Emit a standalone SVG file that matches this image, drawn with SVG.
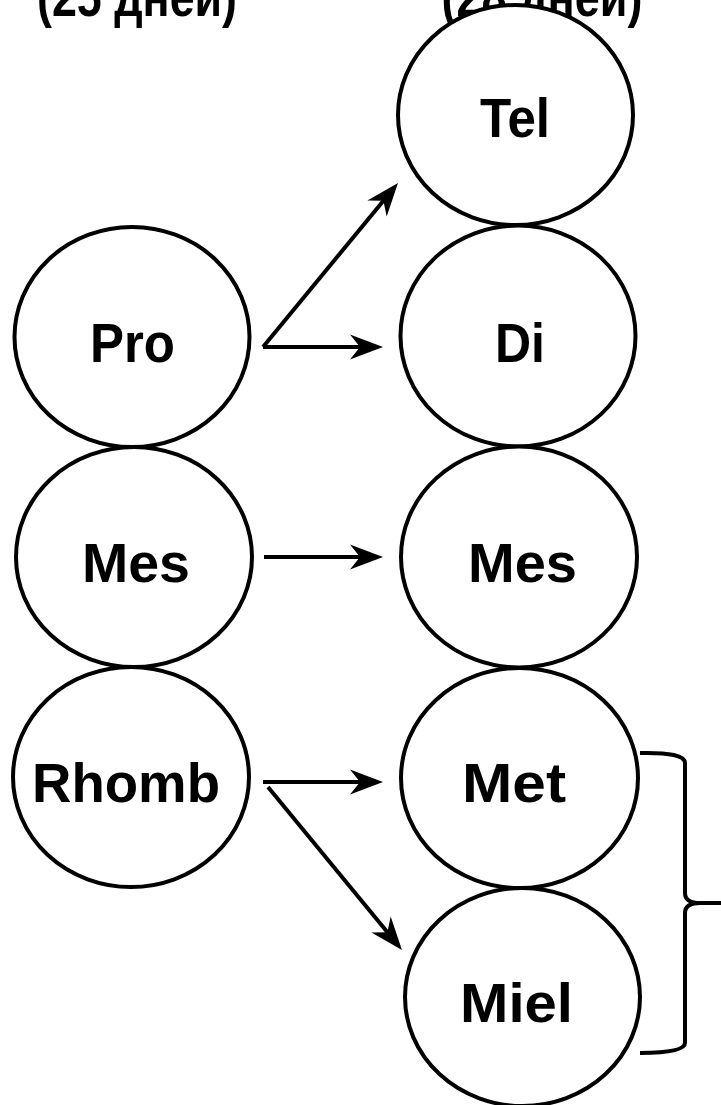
<svg xmlns="http://www.w3.org/2000/svg" width="721" height="1105" viewBox="0 0 721 1105">
<style>
.n{fill:#fff;stroke:#000;stroke-width:4}
.t{font-family:"Liberation Sans",Arial,sans-serif;font-weight:bold;font-size:56px;fill:#000;text-anchor:middle}
.c{stroke:#000;stroke-width:4;fill:none}
</style>
<defs>
<marker id="ah" markerUnits="userSpaceOnUse" markerWidth="60" markerHeight="60" refX="0" refY="0" orient="auto" overflow="visible" viewBox="-20 -20 60 40">
<path d="M20,0 L-13,-12.5 L-3,0 L-13,12.5 Z" fill="#000"/>
</marker>
</defs>
<rect width="721" height="1105" fill="#fff"/>
<g id="headers">
<text class="t" x="137" y="16" textLength="200" lengthAdjust="spacingAndGlyphs">(25 дней)</text>
<text class="t" x="542" y="16" textLength="201" lengthAdjust="spacingAndGlyphs">(28 дней)</text>
</g>
<g id="node-pro"><ellipse class="n" cx="132" cy="337" rx="117.5" ry="110"/><text class="t" x="132.5" y="362" textLength="85" lengthAdjust="spacingAndGlyphs">Pro</text></g>
<g id="node-mes-left"><ellipse class="n" cx="134" cy="557" rx="118" ry="110"/><text class="t" x="136" y="582" textLength="108" lengthAdjust="spacingAndGlyphs">Mes</text></g>
<g id="node-rhomb"><ellipse class="n" cx="131" cy="777" rx="118" ry="110"/><text class="t" x="126" y="802" textLength="188" lengthAdjust="spacingAndGlyphs">Rhomb</text></g>
<g id="node-tel"><ellipse class="n" cx="515.5" cy="115" rx="117.5" ry="110"/><text class="t" x="515" y="137" textLength="70" lengthAdjust="spacingAndGlyphs">Tel</text></g>
<g id="node-di"><ellipse class="n" cx="518" cy="336" rx="117.5" ry="110.5"/><text class="t" x="520" y="362" textLength="50" lengthAdjust="spacingAndGlyphs">Di</text></g>
<g id="node-mes-right"><ellipse class="n" cx="519" cy="557" rx="118" ry="110.5"/><text class="t" x="522.5" y="582" textLength="109" lengthAdjust="spacingAndGlyphs">Mes</text></g>
<g id="node-met"><ellipse class="n" cx="519.5" cy="778" rx="118.5" ry="110"/><text class="t" x="514" y="802" textLength="104" lengthAdjust="spacingAndGlyphs">Met</text></g>
<g id="node-miel"><ellipse class="n" cx="522.5" cy="997" rx="117.5" ry="109"/><text class="t" x="516.5" y="1022" textLength="113" lengthAdjust="spacingAndGlyphs">Miel</text></g>
<g id="connectors">
<line class="c" x1="263" y1="347" x2="385.3" y2="198.4" marker-end="url(#ah)"/>
<line class="c" x1="263" y1="347" x2="363" y2="347" marker-end="url(#ah)"/>
<line class="c" x1="264" y1="557" x2="363" y2="557" marker-end="url(#ah)"/>
<line class="c" x1="263" y1="782" x2="363" y2="782" marker-end="url(#ah)"/>
<line class="c" x1="268" y1="787" x2="389.3" y2="934.6" marker-end="url(#ah)"/>
<path class="c" d="M640,753 Q685,752 685,763 L685,893 Q685,903 700,903 L721,903"/>
<path class="c" d="M700,903 Q685,903 685,913 L685,1043 Q685,1053 640,1053"/>
</g>
</svg>
